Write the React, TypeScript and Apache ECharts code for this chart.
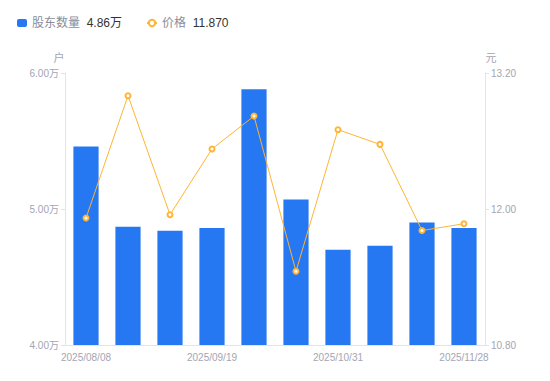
import React, { useEffect, useRef } from "react";
import * as echarts from "echarts";

const categories = [
  "2025/08/08", "2025/08/22", "2025/09/05", "2025/09/19", "2025/09/30",
  "2025/10/20", "2025/10/31", "2025/11/10", "2025/11/20", "2025/11/28",
];
const holders = [5.46, 4.87, 4.84, 4.86, 5.88, 5.07, 4.70, 4.73, 4.90, 4.86];
const prices = [11.92, 13.0, 11.95, 12.53, 12.82, 11.45, 12.70, 12.57, 11.81, 11.87];
const leftTicks = { min: 4, max: 6, interval: 1 };
const rightTicks = { min: 10.8, max: 13.2, interval: 1.2 };

const FONT = "'Liberation Sans', 'Noto Sans CJK SC', sans-serif";

export default function App() {
  const ref = useRef<HTMLDivElement>(null);
  useEffect(() => {
    const chart = echarts.init(ref.current!, undefined, { renderer: "svg" });
    const lastH = holders[holders.length - 1];
    const lastP = prices[prices.length - 1];
    chart.setOption({
      animation: false,
      textStyle: { fontFamily: FONT },
      legend: {
        left: 4,
        top: 4,
        itemGap: 24,
        itemWidth: 10,
        itemHeight: 8,
        data: [
          { name: "股东数量", icon: "roundRect" },
          { name: "价格" },
        ],
        formatter: (name: string) =>
          name === "股东数量"
            ? `{n|${name}}  {v|${lastH.toFixed(2)}万}`
            : `{n|${name}}  {v|${lastP.toFixed(3)}}`,
        textStyle: {
          rich: {
            n: { color: "#8a8d99", fontSize: 12, fontFamily: FONT },
            v: { color: "#333333", fontSize: 12, fontFamily: FONT },
          },
        },
      },
      grid: { left: 57, right: 73, top: 65, bottom: 44 },
      xAxis: {
        type: "category",
        data: categories,
        axisLine: { lineStyle: { color: "#e3e4e8" } },
        axisTick: { show: false },
        axisLabel: {
          interval: 2,
          color: "#a3a5b3",
          fontSize: 10,
          margin: 7,
          fontFamily: FONT,
        },
      },
      yAxis: [
        {
          type: "value",
          name: "户",
          nameGap: 10,
          nameTextStyle: { color: "#a3a5b3", fontSize: 11, padding: [0, 12, 0, 0] },
          min: leftTicks.min,
          max: leftTicks.max,
          interval: leftTicks.interval,
          splitLine: { show: false },
          axisLine: { show: true, lineStyle: { color: "#e3e4e8" } },
          axisTick: { show: true, length: 4, lineStyle: { color: "#e3e4e8" } },
          axisLabel: {
            color: "#a3a5b3",
            fontSize: 10,
            margin: 6,
            formatter: (v: number) => `${v.toFixed(2)}万`,
          },
        },
        {
          type: "value",
          name: "元",
          nameGap: 10,
          nameTextStyle: { color: "#a3a5b3", fontSize: 11, padding: [0, 0, 0, 12] },
          min: rightTicks.min,
          max: rightTicks.max,
          interval: rightTicks.interval,
          splitLine: { show: false },
          axisLine: { show: true, lineStyle: { color: "#e3e4e8" } },
          axisTick: { show: true, length: 4, lineStyle: { color: "#e3e4e8" } },
          axisLabel: {
            color: "#a3a5b3",
            fontSize: 10,
            margin: 6,
            formatter: (v: number) => v.toFixed(2),
          },
        },
      ],
      series: [
        {
          name: "股东数量",
          type: "bar",
          yAxisIndex: 0,
          data: holders,
          barWidth: "60%",
          itemStyle: { color: "#2678f2" },
        },
        {
          name: "价格",
          type: "line",
          yAxisIndex: 1,
          data: prices,
          symbol: "emptyCircle",
          symbolSize: 5,
          lineStyle: { color: "#ffb434", width: 1 },
          itemStyle: { color: "#ffb434", borderWidth: 2 },
        },
      ],
    });
    return () => chart.dispose();
  }, []);
  return <div ref={ref} style={{ width: 550, height: 381 }} />;
}
